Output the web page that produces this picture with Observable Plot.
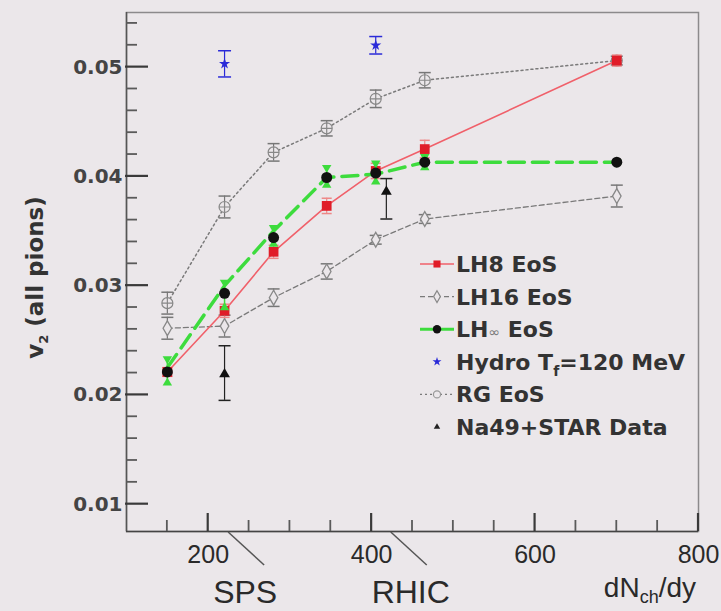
<!DOCTYPE html>
<html>
<head>
<meta charset="utf-8">
<script src="https://cdn.jsdelivr.net/npm/d3@7"></script>
<script src="https://cdn.jsdelivr.net/npm/@observablehq/plot@0.6"></script>
<style>
  html, body { margin: 0; padding: 0; background: #ebe7ea; }
  svg { display: block; }
</style>
</head>
<body>
<div id="chart"></div>
<script>
// ---- data ----
const xDomain = [100, 800];
const yDomain = [0.0075, 0.055];
const xMajorTicks = [200, 400, 600, 800];
const xMinorTicks = [150, 250, 300, 350, 450, 500, 550, 650, 700, 750];
const yMajorTicks = [0.01, 0.02, 0.03, 0.04, 0.05];
const yMinorTicks = [0.012, 0.014, 0.016, 0.018, 0.022, 0.024, 0.026, 0.028, 0.032, 0.034, 0.036, 0.038, 0.042, 0.044, 0.046, 0.048, 0.052, 0.054];

const dNdy = [150, 220, 280, 345, 405, 465, 700];
const lh8 = [0.0221, 0.0277, 0.0331, 0.0373, 0.0405, 0.0425, 0.0506];
const lh8Err = [0.0004, 0.0006, 0.0006, 0.0007, 0.0007, 0.0008, 0.0005];
const lh16 = [0.0261, 0.0263, 0.0289, 0.0313, 0.0342, 0.0361, 0.0382];
const lh16Err = [0.0010, 0.0010, 0.0008, 0.0007, 0.0004, 0.0004, 0.0010];
const lhInf = [0.0221, 0.0293, 0.0344, 0.0399, 0.0403, 0.0413, 0.0413];
const lhInfLine = [0.0225, 0.0300, 0.0350, 0.0399, 0.0402, 0.0413, 0.0413];
const lhInfLow = [0.0211, 0.0280, 0.0338, 0.0392, 0.0395, 0.0408, 0.0413];
const lhInfHigh = [0.0233, 0.0303, 0.0353, 0.0408, 0.0412, 0.0418, 0.0413];
const rg = [0.0284, 0.0372, 0.0422, 0.0444, 0.0471, 0.0488, 0.0506];
const rgErr = [0.0010, 0.0010, 0.0008, 0.0007, 0.0008, 0.0007, 0.0004];

const hydroX = [220, 405];
const hydro = [0.0503, 0.0520];
const hydroErr = [0.0012, 0.0008];

const dataX = [220, 418];
const dataV = [0.0219, 0.0386];
const dataLow = [0.0195, 0.0361];
const dataHigh = [0.0245, 0.0398];

const legendLabels = ["LH8 EoS", "LH16 EoS", "LH∞ EoS", "Hydro Tf=120 MeV", "RG EoS", "Na49+STAR Data"];
const annotLabels = ["SPS", "RHIC"];
const annotAt = [225, 424];

// ---- styles ----
const BG = "#ebe7ea";
const RED_LINE = "#f0606a", RED = "#e01c28";
const GREEN = "#3ddc3d";
const GRAY = "#7a7a7a";
const BLUE = "#2a2ad8";

const rows = (xs, ys, errs) => xs.map((x, i) => ({x, y: ys[i], lo: ys[i] - (errs ? errs[i] : 0), hi: ys[i] + (errs ? errs[i] : 0)}));
const lh8Rows = rows(dNdy, lh8, lh8Err);
const lh16Rows = rows(dNdy, lh16, lh16Err);
const rgRows = rows(dNdy, rg, rgErr);
const infRows = dNdy.map((x, i) => ({x, y: lhInf[i], line: lhInfLine[i], lo: lhInfLow[i], hi: lhInfHigh[i]}));
const hydroRows = rows(hydroX, hydro, hydroErr);
const dataRows = dataX.map((x, i) => ({x, y: dataV[i], lo: dataLow[i], hi: dataHigh[i]}));

const capSymbol = {draw(ctx, size) { const r = Math.sqrt(size / Math.PI); ctx.moveTo(-r, 0); ctx.lineTo(r, 0); }};
const rgSymbol = {draw(ctx, size) {
  const r = Math.sqrt(size / Math.PI);
  ctx.moveTo(r, 0); ctx.arc(0, 0, r, 0, 2 * Math.PI);
  ctx.moveTo(-r, 0); ctx.lineTo(r, 0); ctx.moveTo(0, -r); ctx.lineTo(0, r);
}};

const W = 721, H = 611, ML = 126, MR = 23, MT = 12, MB = 80;
const PW = W - ML - MR, PH = H - MT - MB;

function errMarks(data, color, capR) {
  return [
    Plot.ruleX(data, {x: "x", y1: "lo", y2: "hi", stroke: color, strokeWidth: 1.2}),
    Plot.dot(data, {x: "x", y: "lo", symbol: capSymbol, r: capR, stroke: color, strokeWidth: 1.5}),
    Plot.dot(data, {x: "x", y: "hi", symbol: capSymbol, r: capR, stroke: color, strokeWidth: 1.5})
  ];
}

const chart = Plot.plot({
  width: W, height: H,
  marginLeft: ML, marginRight: MR, marginTop: MT, marginBottom: MB,
  x: {domain: xDomain},
  y: {domain: yDomain},
  style: {background: BG, fontFamily: "Liberation Sans, Arial, sans-serif", color: "#333"},
  marks: [
    Plot.frame({stroke: "#8c8a8c", strokeWidth: 1.5}),
    Plot.ruleX([xDomain[0]], {stroke: "#555", strokeWidth: 1.5}),
    Plot.ruleY([yDomain[0]], {stroke: "#444", strokeWidth: 1.5}),
    Plot.axisX(xMajorTicks, {tickSize: 0, tickPadding: 14, fontSize: 25, fontFamily: "Liberation Sans, Arial, sans-serif", fill: "#2a2a2a", label: null, tickFormat: d => String(d)}),
    Plot.axisY(yMajorTicks, {tickSize: 0, tickPadding: 4, fontSize: 20, fontWeight: "bold", fontFamily: "DejaVu Sans, sans-serif", fill: "#444", label: null, tickFormat: d3.format(".2f")}),

    // RG EoS
    Plot.line(rgRows, {x: "x", y: "y", stroke: GRAY, strokeWidth: 1.5, strokeDasharray: "2,3"}),
    ...errMarks(rgRows, "#777", 6),
    Plot.dot(rgRows, {x: "x", y: "y", symbol: rgSymbol, r: 5.5, stroke: "#888", fill: BG, strokeWidth: 1.2}),

    // LH16 EoS
    Plot.line(lh16Rows, {x: "x", y: "y", stroke: GRAY, strokeWidth: 1.3, strokeDasharray: "5,3"}),
    ...errMarks(lh16Rows, "#777", 6),
    Plot.dot(lh16Rows, {x: "x", y: "y", symbol: "diamond", r: 4.5, stroke: "#888", fill: BG, strokeWidth: 1.3}),

    // LH8 EoS
    Plot.line(lh8Rows, {x: "x", y: "y", stroke: RED_LINE, strokeWidth: 1.6}),
    ...errMarks(lh8Rows, "#e88", 5),
    Plot.dot(lh8Rows, {x: "x", y: "y", symbol: "square", r: 5.5, fill: RED}),

    // LH inf EoS
    Plot.ruleX(infRows, {x: "x", y1: "lo", y2: "hi", stroke: GREEN, strokeWidth: 1.5}),
    Plot.line(infRows, {x: "x", y: "line", stroke: GREEN, strokeWidth: 3.5, strokeDasharray: "16,8"}),
    Plot.dot(infRows, {x: "x", y: "lo", symbol: "triangle", r: 3.5, fill: GREEN}),
    Plot.dot(infRows, {x: "x", y: "hi", symbol: "triangle", rotate: 180, r: 3.5, fill: GREEN}),
    Plot.dot(infRows, {x: "x", y: "y", r: 5.5, fill: "#111"}),

    // Hydro
    ...errMarks(hydroRows, BLUE, 6.5),
    Plot.dot(hydroRows, {x: "x", y: "y", symbol: "star", r: 3.5, fill: BLUE}),

    // Data
    ...errMarks(dataRows, "#222", 6),
    Plot.dot(dataRows, {x: "x", y: "y", symbol: "triangle", r: 4, fill: "#111"})
  ]
});

document.getElementById("chart").appendChild(chart);

const svg = d3.select(chart);
const xs = chart.scale("x");
const ys = chart.scale("y");

// inward tick marks (ROOT style)
const tk = svg.append("g");
yMajorTicks.forEach(v => { const y = ys.apply(v);
  tk.append("line").attr("x1", ML - 1).attr("x2", ML + 22).attr("y1", y).attr("y2", y).attr("stroke", "#3a3a3a").attr("stroke-width", 2.2); });
yMinorTicks.forEach(v => { const y = ys.apply(v);
  tk.append("line").attr("x1", ML).attr("x2", ML + 11).attr("y1", y).attr("y2", y).attr("stroke", "#5a5a5a").attr("stroke-width", 1.8); });
xMajorTicks.forEach(v => { const x = xs.apply(v);
  tk.append("line").attr("x1", x).attr("x2", x).attr("y1", H - MB).attr("y2", H - MB - 18).attr("stroke", "#3a3a3a").attr("stroke-width", 2.2); });
xMinorTicks.forEach(v => { const x = xs.apply(v);
  tk.append("line").attr("x1", x).attr("x2", x).attr("y1", H - MB).attr("y2", H - MB - 11).attr("stroke", "#5a5a5a").attr("stroke-width", 1.8); });

// y-axis title
const yt = svg.append("text")
  .attr("transform", `translate(43,${MT + PH / 2 + 6}) rotate(-90)`)
  .attr("text-anchor", "middle")
  .attr("font-family", "DejaVu Sans, sans-serif")
  .attr("font-weight", "bold")
  .attr("font-size", 23)
  .attr("fill", "#333");
yt.append("tspan").text("v");
yt.append("tspan").attr("font-size", 13).attr("dy", "0.35em").text("2");
yt.append("tspan").attr("dy", "-0.2em").text(" (all pions)");

// SPS / RHIC annotations
const labelDx = [17, 20];
annotLabels.forEach((lab, i) => {
  const x0 = xs.apply(annotAt[i]);
  svg.append("line").attr("x1", x0).attr("y1", H - MB + 1).attr("x2", x0 + 36).attr("y2", H - MB + 34)
    .attr("stroke", "#555").attr("stroke-width", 1.5);
  svg.append("text").attr("x", x0 + labelDx[i]).attr("y", 603).attr("text-anchor", "middle")
    .attr("font-family", "Liberation Sans, Arial, sans-serif").attr("font-size", 32).attr("fill", "#2a2a2a").text(lab);
});

// x-axis title dN_ch/dy
const xt = svg.append("text").attr("x", W - MR - 2).attr("y", 597).attr("text-anchor", "end")
  .attr("font-family", "Liberation Sans, Arial, sans-serif").attr("font-size", 28).attr("fill", "#2a2a2a");
xt.append("tspan").text("dN");
xt.append("tspan").attr("font-size", 18).attr("dy", 6).text("ch");
xt.append("tspan").attr("dy", -6).text("/dy");

// legend
const lg = svg.append("g").attr("font-family", "DejaVu Sans, sans-serif").attr("font-weight", "bold")
  .attr("font-size", 22).attr("fill", "#333").attr("text-anchor", "start");
const sym = d3.symbol();
const lineStyles = [
  {stroke: RED_LINE, w: 1.6, dash: null},
  {stroke: GRAY, w: 1.3, dash: "5,3"},
  {stroke: GREEN, w: 3, dash: null},
  null,
  {stroke: GRAY, w: 1.3, dash: "2,3"},
  null
];
legendLabels.forEach((lab, i) => {
  const cy = 264 + i * 32.6;
  const g = lg.append("g");
  const ls = lineStyles[i];
  if (ls) g.append("line").attr("x1", 420).attr("x2", 454).attr("y1", cy).attr("y2", cy)
    .attr("stroke", ls.stroke).attr("stroke-width", ls.w).attr("stroke-dasharray", ls.dash);
  const mk = g.append("path").attr("transform", `translate(437,${cy})`);
  if (i === 0) mk.attr("d", sym.type(d3.symbolSquare).size(50)()).attr("fill", RED);
  if (i === 1) mk.attr("d", sym.type(d3.symbolDiamond).size(40)()).attr("fill", BG).attr("stroke", "#888").attr("stroke-width", 1.2);
  if (i === 2) mk.attr("d", sym.type(d3.symbolCircle).size(55)()).attr("fill", "#111");
  if (i === 3) mk.attr("d", sym.type(d3.symbolStar).size(25)()).attr("fill", BLUE);
  if (i === 4) mk.attr("d", sym.type(d3.symbolCircle).size(40)()).attr("fill", BG).attr("stroke", "#999").attr("stroke-width", 1.2);
  if (i === 5) mk.attr("d", sym.type(d3.symbolTriangle).size(18)()).attr("fill", "#222");
  const t = g.append("text").attr("x", 456).attr("y", cy).attr("dy", "0.36em").attr("text-anchor", "start");
  if (i === 2) {
    t.append("tspan").text("LH");
    t.append("tspan").attr("font-size", 14).attr("font-weight", "normal").attr("fill", "#777").text("∞");
    t.append("tspan").text(" EoS");
  } else if (i === 3) {
    t.append("tspan").text("Hydro T");
    t.append("tspan").attr("font-size", 14).attr("dy", 6).text("f");
    t.append("tspan").attr("dy", -6).text("=120 MeV");
  } else {
    t.text(lab);
  }
});
</script>
</body>
</html>
